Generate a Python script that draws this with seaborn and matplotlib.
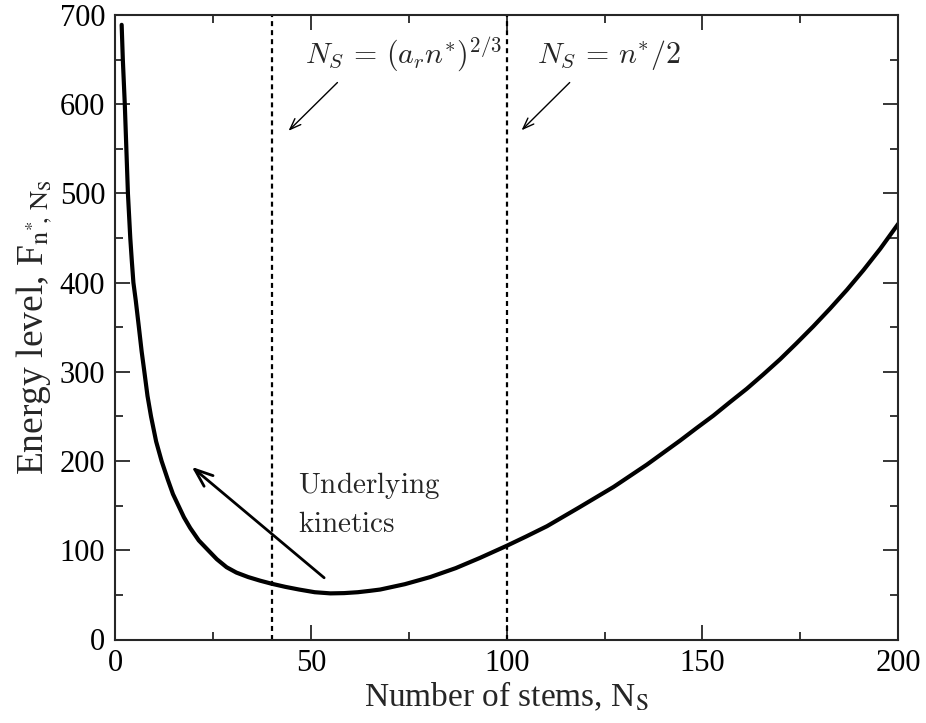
import numpy as np
import pandas as pd
import matplotlib
matplotlib.use("Agg")
import matplotlib.pyplot as plt
import seaborn as sns
from matplotlib.ticker import MultipleLocator

# ---- data ----
stems = [1.7, 2.0, 2.5, 2.9, 3.3, 3.9, 4.3, 4.7, 5.3, 6.1, 6.8, 7.5, 8.3, 9.2,
         10.5, 11.9, 13.5, 14.8, 16.2, 17.6, 19.2, 21.4, 23.8, 26.0, 28.5, 31.0,
         34.0, 37.0, 40.0, 43.5, 47.0, 51.0, 55.0, 58.5, 62.0, 65.0, 67.7, 74.0,
         80.5, 87.0, 93.2, 100.0, 105.0, 110.3, 118.5, 127.3, 135.8, 144.3, 148.5,
         152.8, 157.0, 161.3, 165.5, 169.8, 174.0, 178.3, 182.6, 186.9, 191.1,
         195.4, 197.7, 200.0]
energy = [689, 650, 600, 550, 500, 450, 424, 400, 380, 350, 323, 300, 273, 250,
          222, 200, 179, 163, 150, 137, 125, 111, 100, 90, 81, 75,
          70, 66, 62.5, 59, 56, 53, 51.7, 52, 53, 54.5, 56, 62,
          70, 80, 91.5, 105, 115.5, 127, 148, 171, 196, 223, 237,
          251, 266, 281, 297, 314, 332, 351, 371, 392, 414,
          438, 452, 466]
vlines_x = [40, 100]
x_ticks = [0, 50, 100, 150, 200]
y_ticks = [0, 100, 200, 300, 400, 500, 600, 700]

df = pd.DataFrame({"stems": stems, "energy": energy})

sns.set_style("ticks")
plt.rcParams["font.family"] = ["Liberation Serif", "DejaVu Serif"]
plt.rcParams["mathtext.fontset"] = "stix"
plt.rcParams["lines.scale_dashes"] = False

fig = plt.figure(figsize=(9.26, 7.23), dpi=100)
ax = fig.add_axes([115/926, 1-639.5/723, (898.3-115)/926, (639.5-15)/723])

sns.lineplot(data=df, x="stems", y="energy", ax=ax, color="black", lw=3.0,
             sort=False, estimator=None)
for line in ax.get_lines():
    line.set_solid_joinstyle("round")

for xv in vlines_x:
    ax.axvline(xv, color="black", lw=1.6, linestyle=(0, (3.6, 2.9)))

ax.set_xlim(0, 200)
ax.set_ylim(0, 700)
ax.set_xticks(x_ticks)
ax.set_yticks(y_ticks)
ax.xaxis.set_minor_locator(MultipleLocator(25))
ax.yaxis.set_minor_locator(MultipleLocator(50))
ax.tick_params(which="both", direction="in", top=True, right=True,
               labelsize=22, width=1.1, colors="black")
ax.tick_params(which="major", length=11, pad=7)
ax.tick_params(which="minor", length=6)
for s in ax.spines.values():
    s.set_linewidth(1.5)
    s.set_visible(True)

ax.set_xlabel(r"Number of stems, N$_\mathrm{S}$", fontsize=24, labelpad=1)
ax.set_ylabel(r"Energy level, F$_{\mathrm{n}^{*}\!,\,\mathrm{N}_\mathrm{S}}$",
              fontsize=27, labelpad=4)

# annotations
ax.text(48.5, 646.7, r"$N_S\,=\,(a_r n^{*})^{2/3}$", fontsize=21.5, math_fontfamily="cm",
        va="baseline", ha="left")
ax.text(107.7, 646.7, r"$N_S\,=\,n^{*}/2$", fontsize=21.5, math_fontfamily="cm",
        va="baseline", ha="left")
ax.text(46.8, 163.7, r"$\mathrm{Underlying}$", fontsize=21, math_fontfamily="cm",
        va="baseline", ha="left")
ax.text(46.8, 120.7, r"$\mathrm{kinetics}$", fontsize=21, math_fontfamily="cm",
        va="baseline", ha="left")

ax.annotate("", xy=(43.8, 568), xytext=(57.3, 626.5),
            arrowprops=dict(arrowstyle="->,head_length=0.8,head_width=0.3", lw=1.0, color="black"))
ax.annotate("", xy=(103.3, 568.6), xytext=(116.6, 626.5),
            arrowprops=dict(arrowstyle="->,head_length=0.8,head_width=0.3", lw=1.0, color="black"))
ax.annotate("", xy=(19.6, 193.5), xytext=(53.4, 69.2),
            arrowprops=dict(arrowstyle="->,head_length=1.3,head_width=0.5", lw=2.0, color="black",
                            shrinkA=0, shrinkB=0))

fig.savefig("out.png", dpi=100)
